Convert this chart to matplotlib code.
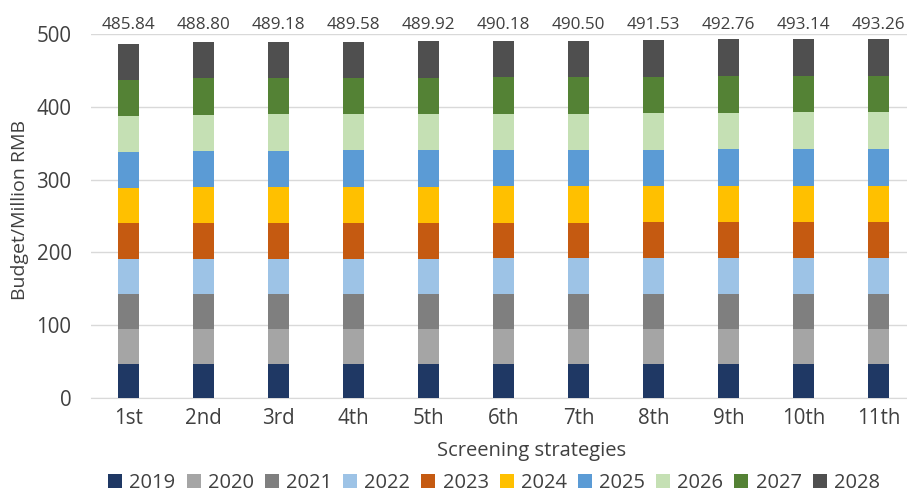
import matplotlib
matplotlib.use("Agg")
import matplotlib.pyplot as plt
import numpy as np

plt.rcParams['font.family'] = ['Open Sans', 'DejaVu Sans']

strategies = ["1st", "2nd", "3rd", "4th", "5th", "6th", "7th", "8th", "9th", "10th", "11th"]
years = ["2019", "2020", "2021", "2022", "2023", "2024", "2025", "2026", "2027", "2028"]

y2019 = [47.00, 47.00, 47.00, 47.00, 47.00, 47.00, 47.00, 47.00, 47.00, 47.00, 47.00]
y2020 = [47.50, 47.50, 47.50, 47.50, 47.50, 47.50, 47.50, 47.50, 47.50, 47.50, 47.50]
y2021 = [48.00, 48.15, 48.17, 48.19, 48.20, 48.22, 48.23, 48.28, 48.35, 48.37, 48.37]
y2022 = [48.50, 48.80, 48.83, 48.87, 48.91, 48.93, 48.97, 49.07, 49.19, 49.23, 49.24]
y2023 = [48.80, 49.10, 49.13, 49.17, 49.21, 49.23, 49.27, 49.37, 49.49, 49.53, 49.54]
y2024 = [49.00, 49.44, 49.50, 49.56, 49.61, 49.65, 49.70, 49.85, 50.04, 50.10, 50.11]
y2025 = [49.20, 49.64, 49.70, 49.76, 49.81, 49.85, 49.90, 50.05, 50.24, 50.30, 50.31]
y2026 = [49.30, 49.74, 49.80, 49.86, 49.91, 49.95, 50.00, 50.15, 50.34, 50.40, 50.41]
y2027 = [49.30, 49.74, 49.80, 49.86, 49.91, 49.95, 50.00, 50.15, 50.34, 50.40, 50.41]
y2028 = [49.24, 49.69, 49.75, 49.81, 49.86, 49.90, 49.93, 50.11, 50.27, 50.31, 50.37]

series = [y2019, y2020, y2021, y2022, y2023, y2024, y2025, y2026, y2027, y2028]
colors = ["#1F3864", "#A5A5A5", "#7F7F7F", "#9DC3E6", "#C55A11",
          "#FFC000", "#5B9BD5", "#C5E0B4", "#548235", "#4F4F4F"]

TXT = "#404040"
W, H = 907, 492
fig = plt.figure(figsize=(W / 100, H / 100), dpi=100)
ax = fig.add_axes([91 / W, (H - 398) / H, 825 / W, 364 / H])

x = np.arange(len(strategies))
bottom = np.zeros(len(strategies))
handles = []
for vals, col, yr in zip(series, colors, years):
    b = ax.bar(x, vals, width=0.28, bottom=bottom, color=col, label=yr, zorder=3)
    handles.append(b)
    bottom += np.array(vals)

totals = bottom
for xi, t in zip(x, totals):
    ax.text(xi, 513, f"{t:.2f}", ha="center", va="center", fontsize=12.3,
            color=TXT, clip_on=False)

ax.set_xlim(-0.5, len(strategies) - 0.5)
ax.set_ylim(0, 500)
ax.set_yticks([0, 100, 200, 300, 400, 500])
ax.set_xticks(x)
ax.set_xticklabels(strategies)
ax.tick_params(axis="both", length=0, labelsize=14.8, colors=TXT)
ax.tick_params(axis="x", pad=7)
ax.tick_params(axis="y", pad=14)
ax.grid(axis="y", color="#D9D9D9", linewidth=1, zorder=0)
for s in ["top", "right", "left"]:
    ax.spines[s].set_visible(False)
ax.spines["bottom"].set_color("#D9D9D9")

ax.set_xlabel("Screening strategies", fontsize=14.5, color=TXT, va="center", ha="center")
ax.xaxis.set_label_coords((532 - 91) / 825, (398 - 451) / 364)
ax.set_ylabel("Budget/Million RMB", fontsize=14, color=TXT, va="center", ha="center")
ax.yaxis.set_label_coords((20 - 91) / 825, (398 - 210) / 364)

fig.legend(handles=handles, labels=years, loc="center", bbox_to_anchor=(494 / W, (H - 483) / H),
           ncol=10, frameon=False, fontsize=14.5, handlelength=0.7, handleheight=0.7,
           handletextpad=0.35, columnspacing=0.55, labelcolor=TXT, borderpad=0,
           borderaxespad=0)

fig.savefig("out.png", dpi=100)
